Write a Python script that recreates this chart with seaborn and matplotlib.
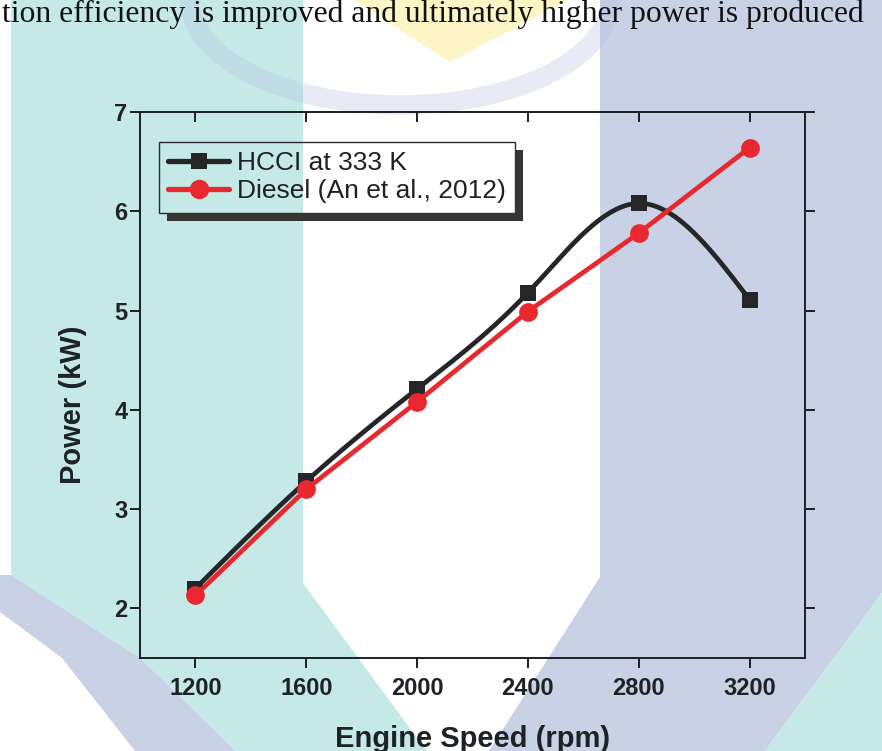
"""
Engine power vs speed: HCCI at 333 K compared with diesel (An et al., 2012).
Recreated from a scanned thesis page, watermark approximated.
"""

import numpy as np
import pandas as pd
import matplotlib
matplotlib.use('Agg')
import matplotlib.pyplot as plt
import seaborn as sns
from matplotlib.lines import Line2D
from matplotlib.patches import Polygon, Rectangle, Ellipse

# data
speed = [1200, 1600, 2000, 2400, 2800, 3200]
hcci_power = [2.20, 3.28, 4.21, 5.18, 6.08, 5.11]
diesel_power = [2.13, 3.20, 4.08, 4.99, 5.78, 6.64]

x_ticks = [1200, 1600, 2000, 2400, 2800, 3200]
y_ticks = [2, 3, 4, 5, 6, 7]

hcci_label = 'HCCI at 333 K'
diesel_label = 'Diesel (An et al., 2012)'
page_text = 'tion efficiency is improved and ultimately higher power is produced'

C_HCCI = '#262629'
C_DIESEL = '#e8282e'
TEAL = '#c4e9e7'
LAVENDER = '#c9d1e5'
YELLOW = '#fdf5c6'

W, H = 882, 751


def natural_spline(x, y, n=300):
    """smooth curve through the points (origin-style spline line)"""
    x = np.asarray(x, float)
    y = np.asarray(y, float)
    k = len(x)
    h = np.diff(x)
    A = np.zeros((k, k))
    b = np.zeros(k)
    A[0, 0] = A[-1, -1] = 1
    for i in range(1, k - 1):
        A[i, i - 1] = h[i - 1]
        A[i, i] = 2 * (h[i - 1] + h[i])
        A[i, i + 1] = h[i]
        b[i] = 6 * ((y[i + 1] - y[i]) / h[i] - (y[i] - y[i - 1]) / h[i - 1])
    M = np.linalg.solve(A, b)
    xs = np.linspace(x[0], x[-1], n)
    idx = np.clip(np.searchsorted(x, xs) - 1, 0, k - 2)
    x0, x1 = x[idx], x[idx + 1]
    hh = x1 - x0
    t0, t1 = x1 - xs, xs - x0
    ys = (M[idx] * t0**3 + M[idx + 1] * t1**3) / (6 * hh) \
        + (y[idx] / hh - M[idx] * hh / 6) * t0 \
        + (y[idx + 1] / hh - M[idx + 1] * hh / 6) * t1
    return xs, ys


def px(pts):
    # pixel coords (from top-left) -> figure fraction
    return [(x / W, 1 - y / H) for x, y in pts]


def watermark(fig):
    shapes = [
        (TEAL, [(11, 0), (303, 0), (303, 583), (427, 751), (236, 751), (140, 658), (11, 575)]),
        ('white', [(303, 0), (600, 0), (600, 577), (489, 751), (427, 751), (303, 583)]),
        (LAVENDER, [(600, 0), (882, 0), (882, 593), (765, 751), (489, 751), (600, 577)]),
        (TEAL, [(882, 593), (882, 751), (765, 751)]),
        (LAVENDER, [(0, 575), (11, 575), (140, 658), (236, 751), (135, 751),
                    (62, 658), (0, 612)]),
        (YELLOW, [(354, 0), (568, 0), (450, 62)]),
    ]
    for color, pts in shapes:
        fig.patches.append(Polygon(px(pts), closed=True, transform=fig.transFigure,
                                   facecolor=color, edgecolor='none', zorder=-10))
    # the faint arc of the logo
    arc = Ellipse((400 / W, 1 - 0 / H), 420 / W, 210 / H, transform=fig.transFigure,
                  facecolor='none', edgecolor='#b9c1e0', lw=14, alpha=0.32, zorder=-9)
    fig.patches.append(arc)


fig = plt.figure(figsize=(W / 100, H / 100), dpi=100)
sns.set_style('ticks')
plt.rcParams['font.family'] = ['Liberation Sans', 'DejaVu Sans']

watermark(fig)

ax = fig.add_axes([140 / W, 1 - 658 / H, 665 / W, 546 / H])
ax.set_facecolor('none')

# HCCI: smooth line + square markers
xs, ys = natural_spline(speed, hcci_power)
curve = pd.DataFrame({'speed': xs, 'power': ys})
sns.lineplot(data=curve, x='speed', y='power', color=C_HCCI, lw=3.4, ax=ax, zorder=2)
ax.plot(speed, hcci_power, ls='none', marker='s', ms=11, color=C_HCCI, mew=0, zorder=3)

# Diesel: straight segments + circles
sns.lineplot(x=speed, y=diesel_power, color=C_DIESEL, lw=3.4, marker='o', ms=13.5,
             mew=0, ax=ax, zorder=4)

ax.set_xlim(1000, 3400)
ax.set_ylim(1.5, 7)
ax.set_xticks(x_ticks)
ax.set_yticks(y_ticks)

for s in ax.spines.values():
    s.set_linewidth(1.4)
    s.set_color('#1a1f24')

ax.tick_params(axis='both', direction='out', length=7, width=1.4, color='#1a1f24',
               labelsize=17, labelcolor='#1e2226')
ax.tick_params(axis='x', pad=7)
ax.tick_params(axis='y', pad=2, right=True)
for lab in ax.get_xticklabels() + ax.get_yticklabels():
    lab.set_fontweight('bold')

top = ax.secondary_xaxis('top')
top.set_xticks(x_ticks)
top.tick_params(direction='in', length=7, width=1.4, color='#1a1f24', labeltop=False)
top.spines['top'].set_visible(False)

ax.set_xlabel('Engine Speed (rpm)', fontsize=21, fontweight='bold', color='#1e2226')
ax.set_ylabel('Power (kW)', fontsize=21, fontweight='bold', color='#1e2226')
ax.xaxis.set_label_coords(0.5, -0.122)
ax.yaxis.set_label_coords(-0.080, 0.463)

handles = [
    Line2D([], [], color=C_HCCI, lw=3.8, marker='s', ms=11.5, mew=0),
    Line2D([], [], color=C_DIESEL, lw=3.8, marker='o', ms=14, mew=0),
]
leg = ax.legend(handles, [hcci_label, diesel_label], loc='upper left',
                bbox_to_anchor=(0.0286, 0.945), borderaxespad=0, fontsize=19,
                handlelength=2.3, handletextpad=0.3, borderpad=0.35,
                labelspacing=0.16, fancybox=False, framealpha=1)
leg.get_frame().set_facecolor('none')
leg.get_frame().set_edgecolor('#2a2a2a')
leg.get_frame().set_linewidth(1.0)
for t in leg.get_texts():
    t.set_color('#1e2226')

fig.text(2 / W, 1 - 22 / H, page_text, family=['Liberation Serif', 'DejaVu Serif'],
         fontsize=22.8, color='#111111', ha='left', va='baseline')

# drop shadow of legend box (drawn by hand so the box stays see-through)
fig.canvas.draw()
bb = leg.get_frame().get_window_extent()
off = 8
for x0, y0, w, h in [(bb.x1, bb.y0 - off, off, bb.height),
                     (bb.x0 + off, bb.y0 - off, bb.width, off)]:
    fig.patches.append(Rectangle((x0 / W, y0 / H), w / W, h / H, transform=fig.transFigure,
                                 facecolor='#353535', edgecolor='none', zorder=5))

plt.savefig('out.png', dpi=100)
plt.close()
